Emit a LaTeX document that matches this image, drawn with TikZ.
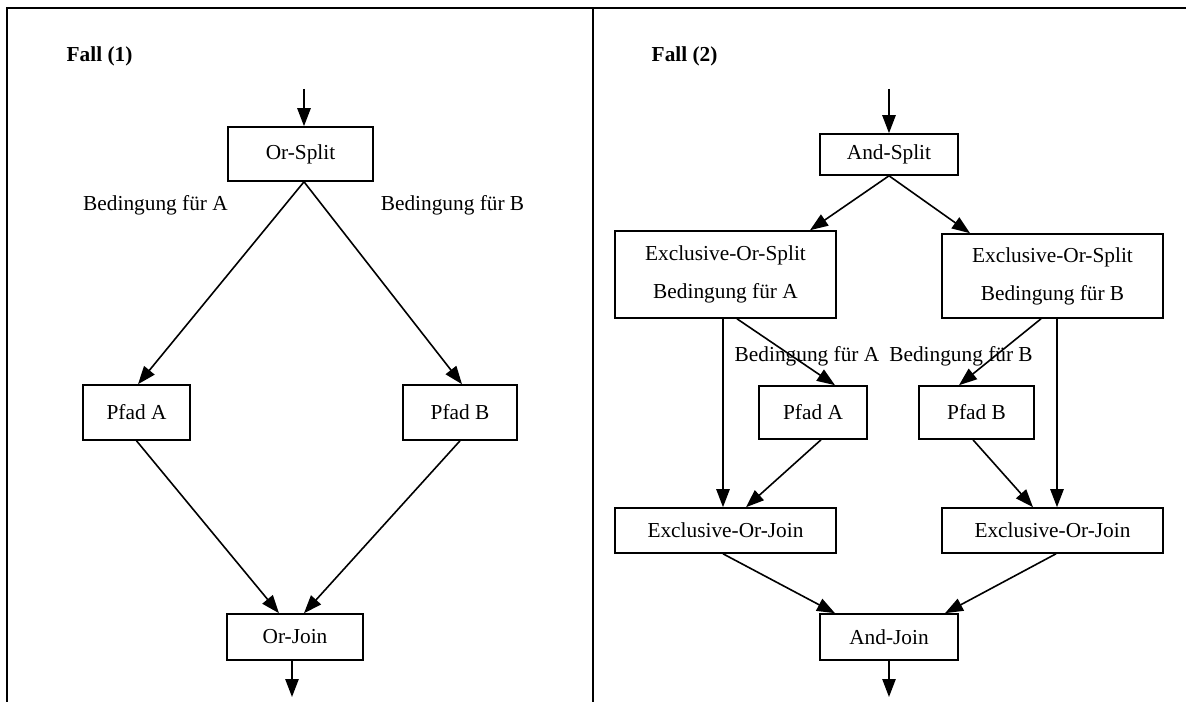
\documentclass[tikz,border=0pt]{standalone}
\usepackage{fontspec}
\setmainfont{Liberation Serif}
\usetikzlibrary{arrows.meta,calc}
\begin{document}
\begin{tikzpicture}[x=0.75pt,y=-0.75pt,
    box/.style={draw,line width=1.2pt,inner sep=0pt,font=\fontsize{16}{28.5}\selectfont,align=center},
    lbl/.style={font=\fontsize{16}{19}\selectfont},
    head/.style={font=\fontsize{16}{19}\selectfont\bfseries,anchor=west},
    >={Triangle[length=13.5pt,width=10pt]},
    conn/.style={->,line width=1.2pt}]
  \useasboundingbox (0,0) rectangle (1186,702);
  \draw [line width=1.6pt] (7,702)--(7,8)--(1186,8);
  \draw [line width=1.6pt] (593,8)--(593,702);

  \node [head] (fall1) at (62,56) {Fall (1)};
  \node [box,minimum width=108.75pt,minimum height=40.5pt] (orsplit) at (300.5,154) {Or-Split};
  \node [lbl] (condA1) at (155.5,205) {Bedingung für A};
  \node [lbl] (condB1) at (452.5,205) {Bedingung für B};
  \node [box,minimum width=80.25pt,minimum height=41.25pt] (pfadA1) at (136.5,412.5) {Pfad A};
  \node [box,minimum width=85.5pt,minimum height=41.25pt] (pfadB1) at (460,412.5) {Pfad B};
  \node [box,minimum width=102pt,minimum height=34.5pt] (orjoin) at (295,637) {Or-Join};
  \coordinate (in1) at (304,89);
  \coordinate (out1) at (292,697);
  \draw [conn] (in1) -- ($(orsplit.north)+(3.5,0)$);
  \draw [conn] ($(orsplit.south)+(3.5,0)$) -- ($(pfadA1.north)+(1.5,0)$);
  \draw [conn] ($(orsplit.south)+(3.5,0)$) -- ($(pfadB1.north)+(2,0)$);
  \draw [conn] (pfadA1.south) -- ($(orjoin.north)+(-16,0)$);
  \draw [conn] (pfadB1.south) -- ($(orjoin.north)+(9,0)$);
  \draw [conn] ($(orjoin.south)+(-3,0)$) -- (out1);

  \node [head] (fall2) at (647,56) {Fall (2)};
  \node [box,minimum width=103.5pt,minimum height=30.75pt] (andsplit) at (889,154.5) {And-Split};
  \node [box,minimum width=165.75pt,minimum height=65.25pt] (xsplitA) at (725.5,274.5) {Exclusive-Or-Split\\Bedingung für A};
  \node [box,minimum width=165.75pt,minimum height=63pt] (xsplitB) at (1052.5,276) {Exclusive-Or-Split\\Bedingung für B};
  \node [lbl] (condA2) at (807,356) {Bedingung für A};
  \node [lbl] (condB2) at (961,356) {Bedingung für B};
  \node [box,minimum width=81pt,minimum height=39.75pt] (pfadA2) at (813,412.5) {Pfad A};
  \node [box,minimum width=86.25pt,minimum height=39.75pt] (pfadB2) at (976.5,412.5) {Pfad B};
  \node [box,minimum width=165.75pt,minimum height=33.75pt] (xjoinA) at (725.5,530.5) {Exclusive-Or-Join};
  \node [box,minimum width=165.75pt,minimum height=33.75pt] (xjoinB) at (1052.5,530.5) {Exclusive-Or-Join};
  \node [box,minimum width=103.5pt,minimum height=34.5pt] (andjoin) at (889,637) {And-Join};
  \coordinate (in2) at (889,89);
  \coordinate (out2) at (889,697);
  \draw [conn] (in2) -- (andsplit.north);
  \draw [conn] (andsplit.south) -- ($(xsplitA.north)+(84.5,0)$);
  \draw [conn] (andsplit.south) -- ($(xsplitB.north)+(-82.5,0)$);
  \draw [conn] ($(xsplitA.south)+(-2.5,0)$) -- ($(xjoinA.north)+(-2.5,0)$);
  \draw [conn] ($(xsplitA.south)+(11.5,0)$) -- ($(pfadA2.north)+(22,0)$);
  \draw [conn] ($(xsplitB.south)+(4.5,0)$) -- ($(xjoinB.north)+(4.5,0)$);
  \draw [conn] ($(xsplitB.south)+(-11.5,0)$) -- ($(pfadB2.north)+(-17.5,0)$);
  \draw [conn] ($(pfadA2.south)+(8,0)$) -- ($(xjoinA.north)+(20.5,0)$);
  \draw [conn] ($(pfadB2.south)+(-3.5,0)$) -- ($(xjoinB.north)+(-19.5,0)$);
  \draw [conn] ($(xjoinA.south)+(-2.5,0)$) -- ($(andjoin.north)+(-54,0)$);
  \draw [conn] ($(xjoinB.south)+(3.5,0)$) -- ($(andjoin.north)+(56,0)$);
  \draw [conn] (andjoin.south) -- (out2);
\end{tikzpicture}
\end{document}
